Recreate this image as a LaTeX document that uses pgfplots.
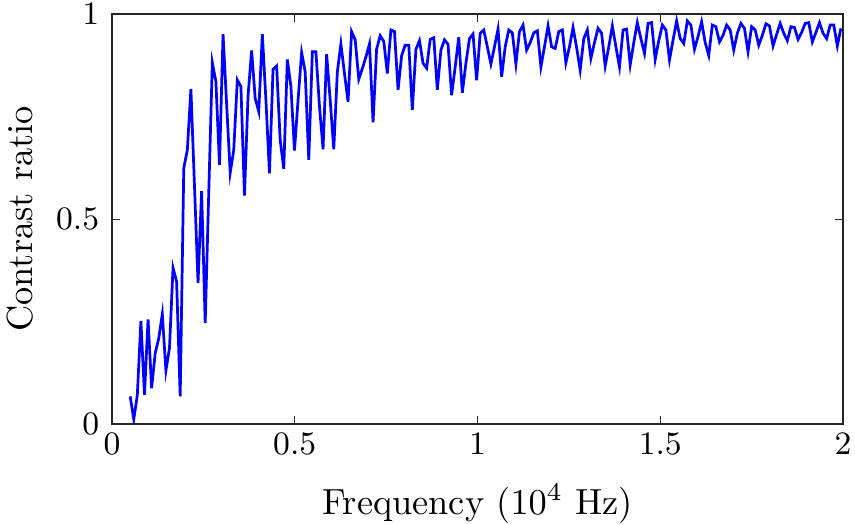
\documentclass[border=0pt]{standalone}
\usepackage{pgfplots}
\pgfplotsset{compat=1.18}
\begin{document}
\begin{tikzpicture}
\begin{axis}[
  name=ax,
  width=201.2pt, height=112.8pt, scale only axis,
  xmin=0, xmax=2, ymin=0, ymax=1,
  xtick={0,0.5,1,1.5,2}, ytick={0,0.5,1},
  tick align=inside, major tick length=2.2pt,
  tick label style={font=\fontsize{8.6}{10}\selectfont},
  xticklabel style={yshift=1pt},
  label style={font=\fontsize{11}{13}\selectfont},
  xlabel={Frequency ($10^4$ Hz)},
  ylabel={Contrast ratio},
  every axis x label/.style={at={([yshift=-22pt]axis description cs:0.5,0)}, anchor=center},
  every axis y label/.style={at={([xshift=-25.3pt]axis description cs:0,0.5)}, rotate=90, anchor=center},
  axis line style={black!85}, tick style={black!85},
]
% measured curve
\addplot[color=blue, line width=0.75pt] table {
x y
0.0500 0.067
0.0598 0.011
0.0695 0.070
0.0793 0.251
0.0891 0.071
0.0989 0.255
0.1086 0.087
0.1184 0.172
0.1282 0.209
0.1379 0.268
0.1477 0.130
0.1575 0.185
0.1672 0.381
0.1770 0.347
0.1868 0.067
0.1966 0.624
0.2063 0.668
0.2161 0.817
0.2259 0.580
0.2356 0.344
0.2454 0.568
0.2552 0.246
0.2649 0.563
0.2747 0.881
0.2845 0.835
0.2943 0.632
0.3040 0.951
0.3138 0.780
0.3236 0.613
0.3333 0.668
0.3431 0.839
0.3529 0.823
0.3626 0.557
0.3724 0.800
0.3822 0.911
0.3920 0.794
0.4017 0.762
0.4115 0.951
0.4213 0.790
0.4310 0.611
0.4408 0.865
0.4506 0.873
0.4603 0.693
0.4701 0.622
0.4799 0.889
0.4897 0.823
0.4994 0.667
0.5092 0.790
0.5190 0.906
0.5287 0.859
0.5385 0.644
0.5483 0.908
0.5580 0.908
0.5678 0.775
0.5776 0.670
0.5874 0.902
0.5971 0.790
0.6069 0.670
0.6167 0.859
0.6264 0.927
0.6362 0.855
0.6460 0.786
0.6557 0.957
0.6655 0.937
0.6753 0.841
0.6851 0.867
0.6948 0.895
0.7046 0.927
0.7144 0.736
0.7241 0.914
0.7339 0.947
0.7437 0.933
0.7534 0.855
0.7632 0.961
0.7730 0.957
0.7828 0.815
0.7925 0.898
0.8023 0.924
0.8121 0.924
0.8218 0.766
0.8316 0.914
0.8414 0.935
0.8511 0.880
0.8609 0.868
0.8707 0.938
0.8805 0.942
0.8902 0.815
0.9000 0.912
0.9098 0.937
0.9195 0.926
0.9293 0.802
0.9391 0.871
0.9488 0.943
0.9586 0.808
0.9684 0.880
0.9782 0.940
0.9879 0.951
0.9977 0.838
1.0075 0.953
1.0172 0.961
1.0270 0.920
1.0368 0.878
1.0465 0.920
1.0563 0.963
1.0661 0.847
1.0759 0.920
1.0856 0.961
1.0954 0.954
1.1052 0.878
1.1149 0.957
1.1247 0.973
1.1345 0.912
1.1442 0.930
1.1540 0.954
1.1638 0.959
1.1736 0.871
1.1833 0.920
1.1931 0.971
1.2029 0.920
1.2126 0.916
1.2224 0.957
1.2322 0.961
1.2419 0.881
1.2517 0.920
1.2615 0.967
1.2713 0.918
1.2810 0.863
1.2908 0.940
1.3006 0.961
1.3103 0.892
1.3201 0.930
1.3299 0.965
1.3396 0.953
1.3494 0.873
1.3592 0.920
1.3690 0.971
1.3787 0.920
1.3885 0.871
1.3983 0.961
1.4080 0.963
1.4178 0.876
1.4276 0.930
1.4373 0.979
1.4471 0.940
1.4569 0.904
1.4667 0.977
1.4764 0.979
1.4862 0.889
1.4960 0.935
1.5057 0.973
1.5155 0.961
1.5253 0.888
1.5350 0.936
1.5448 0.983
1.5546 0.940
1.5644 0.928
1.5741 0.983
1.5839 0.973
1.5937 0.914
1.6034 0.945
1.6132 0.981
1.6230 0.930
1.6327 0.899
1.6425 0.973
1.6523 0.969
1.6621 0.932
1.6718 0.948
1.6816 0.973
1.6914 0.961
1.7011 0.912
1.7109 0.953
1.7207 0.977
1.7304 0.965
1.7402 0.908
1.7500 0.969
1.7598 0.961
1.7695 0.924
1.7793 0.948
1.7891 0.976
1.7988 0.971
1.8086 0.922
1.8184 0.950
1.8281 0.977
1.8379 0.953
1.8477 0.935
1.8575 0.969
1.8672 0.967
1.8770 0.938
1.8868 0.955
1.8965 0.977
1.9063 0.979
1.9161 0.932
1.9258 0.955
1.9356 0.979
1.9454 0.953
1.9552 0.940
1.9649 0.973
1.9747 0.973
1.9845 0.922
1.9942 0.965
};
\end{axis}
\pgfresetboundingbox
\path[use as bounding box] ([xshift=-30.8pt,yshift=-27.8pt]ax.south west) rectangle ([xshift=3.3pt,yshift=3.85pt]ax.north east);
\end{tikzpicture}
\end{document}
